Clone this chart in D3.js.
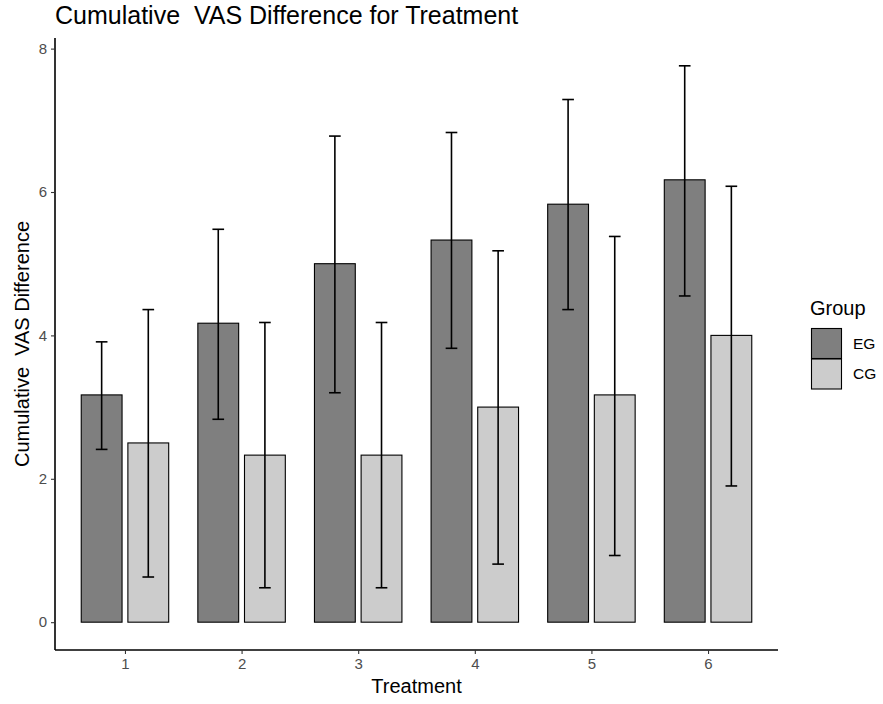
<!DOCTYPE html>
<html>
<head>
<meta charset="utf-8">
<script src="https://cdn.jsdelivr.net/npm/d3@7"></script>
<style>
  body { margin: 0; background: white; }
  text { font-family: "Liberation Sans", Arial, sans-serif; }
</style>
</head>
<body>
<svg width="883" height="704"></svg>
<script>
// data
const treatments = [1, 2, 3, 4, 5, 6]
const groups = ['EG', 'CG']
const egMean = [3.17, 4.17, 5.0, 5.33, 5.83, 6.17]
const egLow  = [2.41, 2.83, 3.2, 3.82, 4.36, 4.55]
const egHigh = [3.91, 5.48, 6.78, 6.83, 7.29, 7.76]
const cgMean = [2.5, 2.33, 2.33, 3.0, 3.17, 4.0]
const cgLow  = [0.63, 0.48, 0.48, 0.81, 0.93, 1.9]
const cgHigh = [4.36, 4.18, 4.18, 5.18, 5.38, 6.08]
const yTicks = [0, 2, 4, 6, 8]
const fills = {EG: '#7f7f7f', CG: '#cccccc'}

let rows = []
treatments.forEach((t, i) => {
    rows.push({t: t, g: 'EG', m: egMean[i], lo: egLow[i], hi: egHigh[i]})
    rows.push({t: t, g: 'CG', m: cgMean[i], lo: cgLow[i], hi: cgHigh[i]})
})

const svg = d3.select('svg')
const pLeft = 55, pRight = 778, pTop = 38, pBottom = 650

// x like ggplot discrete axis with 0.6 expansion
const x = d3.scaleLinear().domain([0.4, 6.6]).range([pLeft, pRight])
const maxY = d3.max(egHigh.concat(cgHigh))
const y = d3.scaleLinear().domain([-maxY * 0.05, maxY * 1.05]).range([pBottom, pTop])
const dodge = {EG: -0.2, CG: 0.2}
const barW = 0.35

// bars
svg.append('g').selectAll('rect')
    .data(rows)
    .join('rect')
    .attr('x', d => x(d.t + dodge[d.g] - barW / 2))
    .attr('width', d => x(barW) - x(0))
    .attr('y', d => y(d.m))
    .attr('height', d => y(0) - y(d.m))
    .style('fill', d => fills[d.g])
    .style('stroke', 'black')
    .style('stroke-width', '1.1px')

// error bars
const eb = svg.append('g').selectAll('g')
    .data(rows)
    .join('g')
    .style('stroke', 'black')
    .style('stroke-width', '1.6px')
eb.append('line')
    .attr('x1', d => x(d.t + dodge[d.g])).attr('x2', d => x(d.t + dodge[d.g]))
    .attr('y1', d => y(d.lo)).attr('y2', d => y(d.hi))
eb.append('line')
    .attr('x1', d => x(d.t + dodge[d.g] - 0.05)).attr('x2', d => x(d.t + dodge[d.g] + 0.05))
    .attr('y1', d => y(d.hi)).attr('y2', d => y(d.hi))
eb.append('line')
    .attr('x1', d => x(d.t + dodge[d.g] - 0.05)).attr('x2', d => x(d.t + dodge[d.g] + 0.05))
    .attr('y1', d => y(d.lo)).attr('y2', d => y(d.lo))

// axes
const xAxis = svg.append('g')
    .attr('transform', `translate(0,${pBottom})`)
    .call(d3.axisBottom(x).tickValues(treatments).tickFormat(d3.format('d'))
        .tickSize(4).tickPadding(4).tickSizeOuter(0))
const yAxis = svg.append('g')
    .attr('transform', `translate(${pLeft},0)`)
    .call(d3.axisLeft(y).tickValues(yTicks).tickSize(4).tickPadding(4).tickSizeOuter(0))
for (const a of [xAxis, yAxis]) {
    a.select('.domain').style('stroke', 'black').style('stroke-width', '1.6px')
    a.selectAll('.tick line').style('stroke', '#333').style('stroke-width', '1.1px')
    a.selectAll('.tick text').style('fill', '#4d4d4d').style('font-size', '15px')
        .style('font-family', '"Liberation Sans", Arial, sans-serif')
}
// stretch domain lines to the panel edges
xAxis.select('.domain').attr('d', `M${pLeft},0H${pRight}`)
yAxis.select('.domain').attr('d', `M0,${pTop}V${pBottom}`)

// titles
svg.append('text')
    .attr('x', pLeft)
    .attr('y', 24)
    .style('font-size', '25px')
    .style('white-space', 'pre')
    .text('Cumulative  VAS Difference for Treatment')

svg.append('text')
    .attr('x', (pLeft + pRight) / 2)
    .attr('y', 693)
    .attr('text-anchor', 'middle')
    .style('font-size', '20px')
    .text('Treatment')

svg.append('text')
    .attr('transform', `translate(22,${(pTop + pBottom) / 2}) rotate(-90)`)
    .attr('text-anchor', 'middle')
    .attr('dy', '0.35em')
    .style('font-size', '20px')
    .style('white-space', 'pre')
    .text('Cumulative  VAS Difference')

// legend
const lg = svg.append('g').attr('transform', 'translate(810,300)')
lg.append('text')
    .attr('x', 0)
    .attr('y', 15)
    .style('font-size', '20px')
    .text('Group')
groups.forEach((g, i) => {
    lg.append('rect')
        .attr('x', 1.5)
        .attr('y', 28.5 + i * 30.5)
        .attr('width', 30)
        .attr('height', 30)
        .style('fill', fills[g])
        .style('stroke', 'black')
        .style('stroke-width', '1.1px')
    lg.append('text')
        .attr('x', 43)
        .attr('y', 43.5 + i * 30.5)
        .attr('dy', '0.35em')
        .style('font-size', '15.5px')
        .text(g)
})
</script>
</body>
</html>
